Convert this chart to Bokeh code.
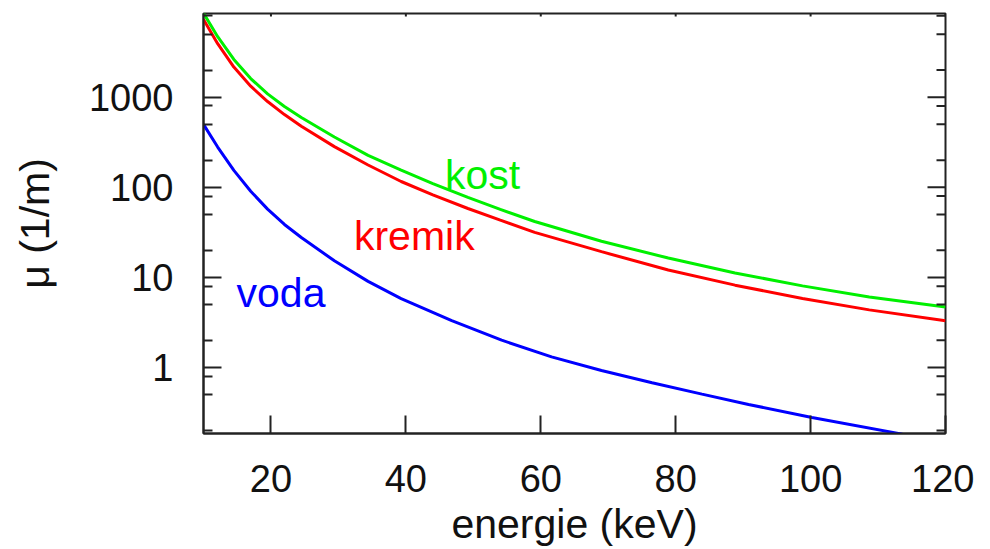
from bokeh.plotting import figure
from bokeh.models import Label, FixedTicker, Range1d
from bokeh.embed import file_html
from bokeh.resources import INLINE

# energie (keV) and mu (1/m)
energie_kost = [10, 12.1, 14.5, 17.0, 19.5, 22.0, 24.5, 29.4, 34.4, 39.3, 44.0, 49.2, 54.0, 59.1, 69.0, 78.9, 88.8, 98.8, 108.7, 120]
mu_kost = [8600, 4700, 2630, 1610, 1090, 789, 596, 362, 226, 155, 110, 77.4, 56.9, 41.7, 25.2, 16.4, 11.2, 8.05, 6.05, 4.7]

energie_kremik = [10, 12.1, 14.5, 17.0, 19.5, 22.0, 24.5, 29.4, 34.4, 39.3, 44.0, 49.2, 54.0, 59.1, 69.0, 78.9, 88.8, 98.8, 108.7, 120]
mu_kremik = [7300, 3926, 2163, 1326, 896, 642, 476, 283, 177, 116, 82.4, 58.2, 43.2, 31.6, 19.3, 12.1, 8.2, 5.83, 4.36, 3.31]

energie_voda = [10, 12.1, 14.5, 17.0, 19.5, 22.0, 24.5, 29.4, 34.4, 39.3, 46.8, 54.2, 61.6, 69.0, 76.5, 83.9, 90.8, 100.2, 113.6]
mu_voda = [500, 280, 154, 90.3, 57.3, 38.7, 27.7, 15.3, 9.04, 5.82, 3.32, 2.01, 1.31, 0.925, 0.678, 0.506, 0.389, 0.279, 0.182]

x_ticks = [20, 40, 60, 80, 100, 120]
y_ticks = [1, 10, 100, 1000]
y_minor = [0.2, 0.5, 0.8, 2, 5, 8, 20, 50, 80, 200, 500, 800, 2000, 5000, 8000]
y_labels = {1: "1", 10: "10", 100: "100", 1000: "1000"}

FONT = "Liberation Sans"
GREEN = "#00f000"
RED = "#ff0000"
BLUE = "#0000ff"
AX = "#222222"
FW, FH = 742, 420          # plot frame size in px
MAJ, MIN = 18, 9           # tick lengths in px

p = figure(frame_width=FW, frame_height=FH, y_axis_type="log",
           x_range=(10, 120), y_range=(0.185, 8500),
           output_backend="svg", toolbar_location=None,
           min_border_left=203, min_border_right=29,
           min_border_top=13, min_border_bottom=100,
           background_fill_color="white", border_fill_color="white")
p.outline_line_color = AX
p.outline_line_width = 2
p.xgrid.visible = False
p.ygrid.visible = False

p.line(energie_kost, mu_kost, line_color=GREEN, line_width=3)
p.line(energie_kremik, mu_kremik, line_color=RED, line_width=3)
p.line(energie_voda, mu_voda, line_color=BLUE, line_width=3)

xa = p.xaxis[0]
xa.ticker = FixedTicker(ticks=x_ticks, minor_ticks=[])
ya = p.yaxis[0]
ya.ticker = FixedTicker(ticks=y_ticks, minor_ticks=y_minor)
ya.major_label_overrides = y_labels

for ax in (xa, ya):
    ax.axis_line_color = AX
    ax.axis_line_width = 2
    ax.major_tick_line_color = AX
    ax.minor_tick_line_color = AX
    ax.major_tick_line_width = 2
    ax.minor_tick_line_width = 2
    ax.major_tick_in = MAJ
    ax.major_tick_out = 0
    ax.minor_tick_in = MIN
    ax.minor_tick_out = 0
    ax.major_label_text_font = FONT
    ax.major_label_text_font_size = "38px"
    ax.major_label_text_color = "#111111"
    ax.axis_label_text_font = FONT
    ax.axis_label_text_font_size = "41px"
    ax.axis_label_text_font_style = "normal"
    ax.axis_label_text_color = "#111111"

xa.axis_label = "energie (keV)"
xa.major_label_standoff = 31
xa.axis_label_standoff = 6
ya.axis_label = "μ (1/m)"
ya.major_label_standoff = 30
ya.axis_label_standoff = 28

# mirrored tick marks on the top and right frame edges (pixel helper ranges)
p.extra_x_ranges = {"px": Range1d(0, FW)}
p.extra_y_ranges = {"px": Range1d(0, FH)}
p.segment(x0=x_ticks, x1=x_ticks, y0=[FH] * len(x_ticks), y1=[FH - MAJ] * len(x_ticks),
          y_range_name="px", line_color=AX, line_width=2)
p.segment(x0=[FW] * len(y_ticks), x1=[FW - MAJ] * len(y_ticks), y0=y_ticks, y1=y_ticks,
          x_range_name="px", line_color=AX, line_width=2)
p.segment(x0=[FW] * len(y_minor), x1=[FW - MIN] * len(y_minor), y0=y_minor, y1=y_minor,
          x_range_name="px", line_color=AX, line_width=2)

p.add_layout(Label(x=45.8, y=138, text="kost", text_font=FONT, text_font_size="41px",
                   text_color=GREEN, text_baseline="alphabetic"))
p.add_layout(Label(x=32.3, y=28.5, text="kremik", text_font=FONT, text_font_size="41px",
                   text_color=RED, text_baseline="alphabetic"))
p.add_layout(Label(x=14.9, y=6.75, text="voda", text_font=FONT, text_font_size="41px",
                   text_color=BLUE, text_baseline="alphabetic"))

open("out.html", "w").write(file_html(p, INLINE))
